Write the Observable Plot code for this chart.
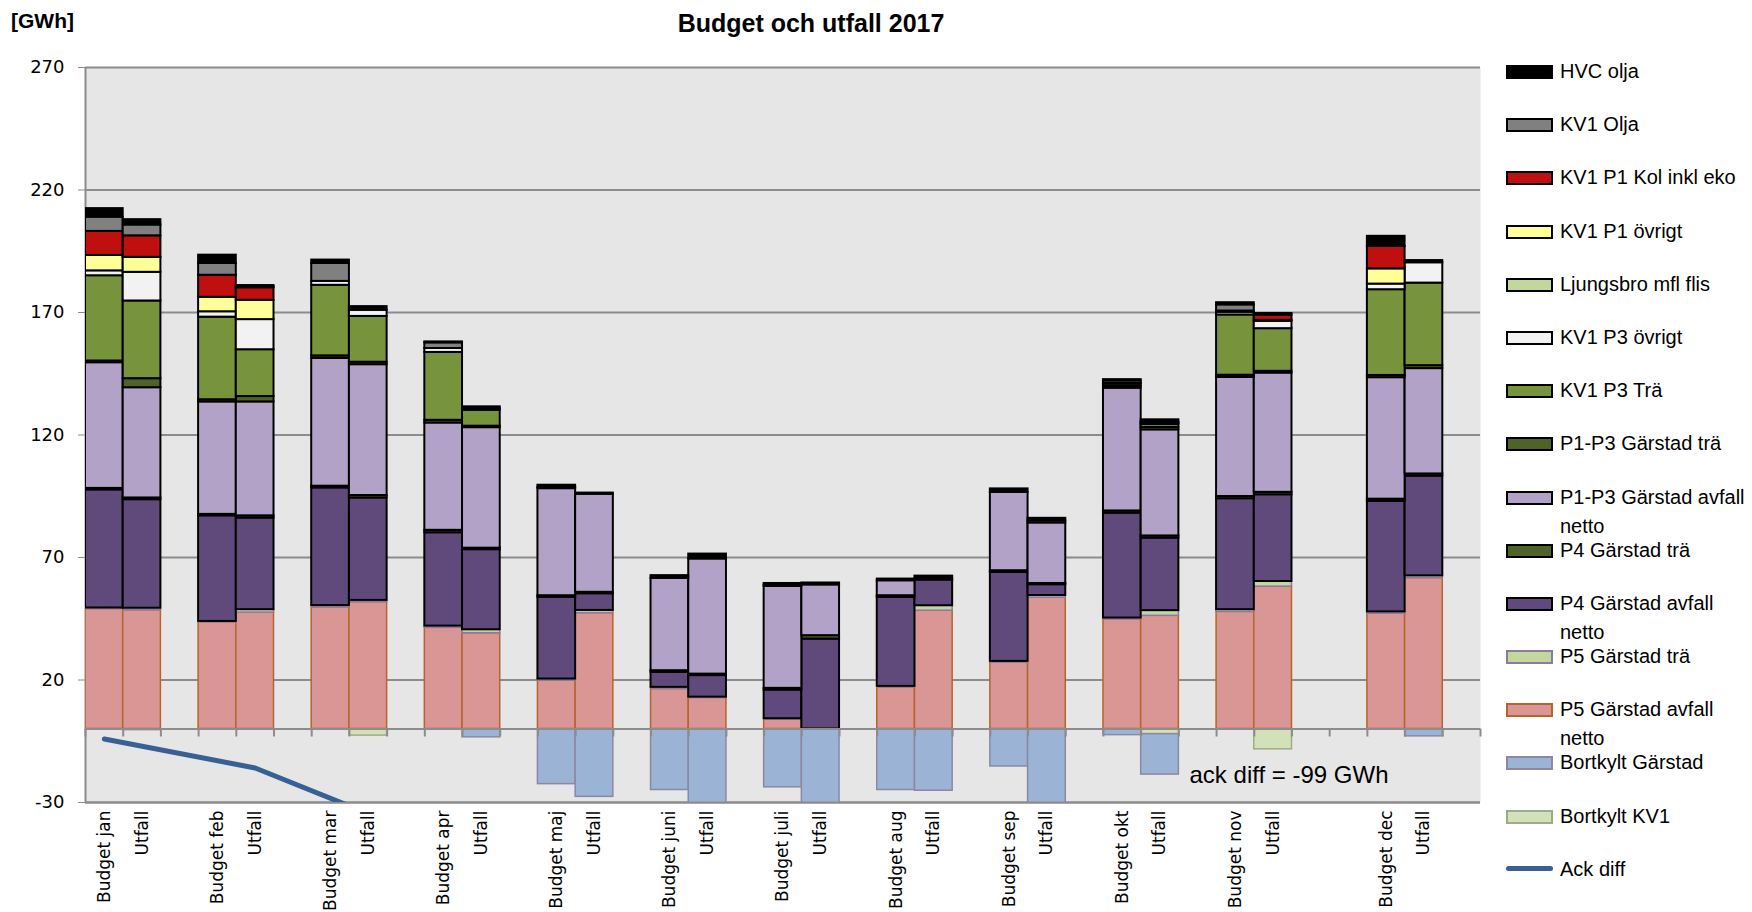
<!DOCTYPE html>
<html>
<head>
<meta charset="utf-8">
<script src="https://cdn.jsdelivr.net/npm/d3@7"></script>
<script src="https://cdn.jsdelivr.net/npm/@observablehq/plot@0.6"></script>
<style>
  html, body { margin: 0; padding: 0; background: #ffffff; overflow: hidden; }
  #wrap { position: relative; width: 1752px; height: 912px; }
  #chart { position: absolute; left: 0; top: 0; }
  #title { position: absolute; left: 511px; top: 11px; width: 600px; text-align: center;
           font-family: "Liberation Sans", Arial, sans-serif; font-weight: bold; font-size: 25px; line-height: 25px; color: #000; }
  #unit { position: absolute; left: 11px; top: 10px; font-family: "Liberation Sans", Arial, sans-serif;
          font-weight: bold; font-size: 21px; line-height: 21px; color: #000; }
  #legend { position: absolute; left: 1506px; top: 57px; font-family: "Liberation Sans", Arial, sans-serif;
            font-size: 20px; line-height: 29px; color: #000; }
  .item { position: relative; height: 53.2px; }
  .sw { position: absolute; left: 0; top: 8px; width: 43px; height: 10px; border: 2px solid #000; }
  .ln { position: absolute; left: 0; top: 11px; width: 47px; height: 5px; border-radius: 3px; }
  .tx { position: absolute; left: 54px; top: 0; white-space: nowrap; }
</style>
</head>
<body>
<div id="wrap">
  <div id="chart"></div>
  <div id="unit">[GWh]</div>
  <div id="title">Budget och utfall 2017</div>
  <div id="legend"></div>
</div>
<script>
// ---------- data ----------
const months = ["jan","feb","mar","apr","maj","juni","juli","aug","sep","okt","nov","dec"];
const blanksAfter = [1,1,1,1,1,1,1,1,1,1,2,1];

// Each series: budget and utfall values per month (GWh)
const hvcOlja        = {budget: [3.5,3.4,1.4,0.4,0.9,1.1,0.7,0.7,1.4,0.5,0.9,4.1], utfall: [2.2,0.5,1.5,0.7,0.5,2.0,0.8,1.1,1.0,1.0,0.7,0.9]};
const kv1Olja        = {budget: [5.8,4.8,7.3,2.3,0,0,0,0,0,1.0,2.5,0], utfall: [4.4,0.4,0,0,0,0,0,0,0,0.4,0,0]};
const kv1P1Kol       = {budget: [9.8,9.0,0,0,0,0,0,0,0,0,0,9.2], utfall: [8.8,5.1,0,0,0,0,0,0,0,0,2.1,0]};
const kv1P1Ovrigt    = {budget: [6.3,5.9,0,0,0,0,0,0,0,0,0,6.2], utfall: [6.1,7.9,0,0,0,0,0,0,0,0,0.4,0]};
const ljungsbroFlis  = {budget: [0,0,0,0,0,0,0,0,0,0,0.5,0], utfall: [0,0,0,0,0,0,0,0,0,0,0,0]};
const kv1P3Ovrigt    = {budget: [2.0,2.2,1.6,1.6,0,0,0,0,0,0.3,1.1,2.3], utfall: [11.7,12.3,2.5,0.7,0,0,0,0,0,0.5,3.0,8.3]};
const kv1P3Tra       = {budget: [34.8,33.7,28.8,27.7,0,0,0,0,0,0.9,24.6,35.0], utfall: [31.7,19.1,18.7,6.5,0,0,0,0,0,1.2,17.4,33.7]};
const p1p3Tra        = {budget: [0.7,0.9,1.0,1.1,0.5,0,0.5,0,0,0.8,0.9,0.9], utfall: [3.7,2.2,1.0,0.6,0,0,0,0,0.9,1.0,0.7,1.2]};
const p1p3Avfall     = {budget: [51.3,45.9,52.2,43.8,43.7,37.7,41.6,6.1,32.0,50.1,48.6,49.6], utfall: [45.0,46.5,53.4,49.2,40.0,47.0,20.7,0,24.7,43.3,48.7,43.0]};
const p4Tra          = {budget: [0.6,0.6,0.7,1.0,0.6,0.7,0.7,0.7,0.7,0.9,0.9,0.9], utfall: [0.7,0.9,1.0,0.6,0.6,0.6,1.4,0.5,0.5,0.9,1.0,0.9]};
const p4Avfall       = {budget: [48.2,43.1,48.0,38.1,33.4,6.1,11.7,36.3,36.3,42.8,45.3,45.1], utfall: [44.3,37.4,41.8,32.7,6.8,8.8,36.7,10.5,4.4,29.6,35.4,40.7]};
const p5Tra          = {budget: [0.4,0.3,0.7,0.7,0.6,0.7,0.4,0.4,0.5,0.5,0.9,0.7], utfall: [0.8,1.2,0.7,1.4,1.1,0.3,0,2.0,0.9,2.1,2.1,0.9]};
const p5Avfall       = {budget: [49.0,43.6,49.7,41.3,19.8,16.3,3.8,17.0,27.1,44.8,47.8,47.1], utfall: [48.5,47.5,51.8,39.1,47.3,12.7,0,48.3,53.6,46.2,58.1,61.6]};
const bortkyltGarstad= {budget: [0,0,0,0,-22.5,-24.9,-23.8,-24.9,-15.3,-2.5,0,0], utfall: [0,0,0,-3.4,-27.7,-33,-33,-25.2,-33,-16.5,0,-3.0]};
const bortkyltKV1    = {budget: [0,0,0,0,0,0,0,0,0,0,0,0], utfall: [-0.5,0,-2.7,0,0,0,0,0,0,-2.1,-8.3,0]};

// Accumulated difference (line), one value per month, and which bar it sits on
const ackDiff   = [-4.1,-15.9,-34.5,-61,-64,-55,-55,-54,-66,-83,-87,-99];
const ackDiffAt = ["budget","utfall","utfall","utfall","utfall","utfall","utfall","utfall","utfall","utfall","utfall","utfall"];

const yTicks = [-30, 20, 70, 120, 170, 220, 270];

// series definitions, bottom-up stacking order
const series = [
  {name: "Bortkylt KV1", data: bortkyltKV1, fill: "#d3e1bb", stroke: "#9dac84", sw: 1.5},
  {name: "Bortkylt Gärstad", data: bortkyltGarstad, fill: "#9bb4d5", stroke: "#8b88a3", sw: 1.5},
  {name: "P5 Gärstad avfall netto", data: p5Avfall, fill: "#d99694", stroke: "#b5652b", sw: 1.5},
  {name: "P5 Gärstad trä", data: p5Tra, fill: "#c3d69b", stroke: "#8c7aa6", sw: 1.5},
  {name: "P4 Gärstad avfall netto", data: p4Avfall, fill: "#604a7b", stroke: "#000000", sw: 2},
  {name: "P4 Gärstad trä", data: p4Tra, fill: "#4f6228", stroke: "#000000", sw: 2},
  {name: "P1-P3 Gärstad avfall netto", data: p1p3Avfall, fill: "#b3a2c7", stroke: "#000000", sw: 2},
  {name: "P1-P3 Gärstad trä", data: p1p3Tra, fill: "#4f6228", stroke: "#000000", sw: 2},
  {name: "KV1 P3 Trä", data: kv1P3Tra, fill: "#77933c", stroke: "#000000", sw: 2},
  {name: "KV1 P3 övrigt", data: kv1P3Ovrigt, fill: "#f2f2f2", stroke: "#000000", sw: 2},
  {name: "Ljungsbro mfl flis", data: ljungsbroFlis, fill: "#c4d79b", stroke: "#000000", sw: 2},
  {name: "KV1 P1 övrigt", data: kv1P1Ovrigt, fill: "#ffff99", stroke: "#000000", sw: 2},
  {name: "KV1 P1 Kol inkl eko", data: kv1P1Kol, fill: "#c00f0f", stroke: "#000000", sw: 2},
  {name: "KV1 Olja", data: kv1Olja, fill: "#808080", stroke: "#000000", sw: 2},
  {name: "HVC olja", data: hvcOlja, fill: "#000000", stroke: "#000000", sw: 2}
];

// ---------- categories ----------
const cats = [];
months.forEach((m, i) => {
  cats.push({key: "budget-" + m, label: "Budget " + m});
  cats.push({key: "utfall-" + m, label: "Utfall"});
  for (let k = 0; k < blanksAfter[i]; k++) cats.push({key: "gap-" + m + "-" + k, label: ""});
});
const catIndex = new Map(cats.map((c, i) => [c.key, i]));
const nCats = cats.length;

const table = [];
series.forEach(s => {
  ["budget", "utfall"].forEach(kind => {
    s.data[kind].forEach((v, i) => {
      if (v === 0) return;
      const idx = catIndex.get(kind + "-" + months[i]);
      table.push({series: s.name, value: v, x1: idx, x2: idx + 1, fill: s.fill, stroke: s.stroke, sw: s.sw});
    });
  });
});

const ackData = ackDiff.map((v, i) => ({x: catIndex.get(ackDiffAt[i] + "-" + months[i]) + 0.5, value: v}));
const labelTicks = cats.map((c, i) => ({pos: i + 0.5, label: c.label})).filter(d => d.label !== "");
const labelAt = new Map(labelTicks.map(d => [d.pos, d.label]));
const boundaries = d3.range(nCats + 1);

const chart = Plot.plot({
  width: 1752,
  height: 912,
  marginTop: 67,
  marginBottom: 110,
  marginLeft: 85,
  marginRight: 272,
  style: {fontFamily: "DejaVu Sans, sans-serif", fontSize: "17px", background: "transparent", overflow: "visible"},
  x: {domain: [0, nCats], axis: null},
  y: {domain: [-30, 270], axis: null},
  color: {type: "identity"},
  marks: [
    Plot.frame({fill: "#e6e6e6", stroke: "none"}),
    Plot.ruleY(yTicks, {stroke: "#8c8c8c", strokeWidth: 2}),
    Plot.ruleX([0], {stroke: "#8c8c8c", strokeWidth: 2}),
    Plot.rectY(table, Plot.stackY({
      x1: "x1", x2: "x2", y: "value", z: "series",
      order: series.map(s => s.name),
      fill: "fill", stroke: "stroke", strokeWidth: "sw", clip: true
    })),
    Plot.ruleY([0], {stroke: "#8c8c8c", strokeWidth: 2}),
    Plot.ruleY([-30], {stroke: "#8c8c8c", strokeWidth: 2}),
    Plot.ruleX(boundaries, {x: d => d, y1: 0, y2: 0, insetBottom: -8, stroke: "#8c8c8c", strokeWidth: 2}),
    Plot.line(ackData, {x: "x", y: "value", stroke: "#386094", strokeWidth: 5, strokeLinecap: "round", clip: true}),
    Plot.text([`ack diff = ${ackDiff[ackDiff.length - 1]} GWh`], {
      frameAnchor: "bottom-right", text: d => d, dx: -92, dy: -20,
      fontSize: 24, fontFamily: "Liberation Sans, Arial, sans-serif", fill: "#000"
    }),
    Plot.axisY({ticks: yTicks, tickFormat: d => String(d), tickSize: 7, tickPadding: 14, label: null,
                stroke: "#8c8c8c", fill: "#000", fontSize: 18}),
    Plot.axisX({ticks: labelTicks.map(d => d.pos), tickFormat: d => labelAt.get(d), tickRotate: -90,
                tickSize: 0, tickPadding: 8, label: null, fill: "#000", fontSize: 17})
  ]
});
document.getElementById("chart").appendChild(chart);

// ---------- legend ----------
const legendItems = [...series].reverse().map(s => ({name: s.name, fill: s.fill, stroke: s.stroke, line: false}));
legendItems.push({name: "Ack diff", fill: "#386094", line: true});
const legend = document.getElementById("legend");
legendItems.forEach(it => {
  const item = document.createElement("div");
  item.className = "item";
  const sw = document.createElement("div");
  if (it.line) {
    sw.className = "ln";
    sw.style.background = it.fill;
  } else {
    sw.className = "sw";
    sw.style.background = it.fill;
    sw.style.borderColor = it.stroke;
  }
  const tx = document.createElement("div");
  tx.className = "tx";
  tx.innerHTML = it.name.replace(/ netto$/, "<br>netto");
  item.appendChild(sw);
  item.appendChild(tx);
  legend.appendChild(item);
});
</script>
</body>
</html>
